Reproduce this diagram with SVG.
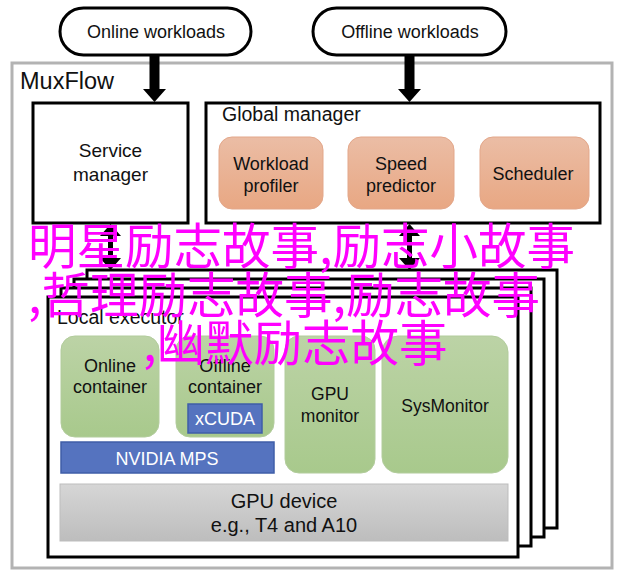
<svg xmlns="http://www.w3.org/2000/svg" width="624" height="582" viewBox="0 0 624 582">
<defs>
<linearGradient id="gOrange" x1="0" y1="0" x2="0" y2="1"><stop offset="0" stop-color="#ebbda5"/><stop offset="1" stop-color="#e8a783"/></linearGradient>
<linearGradient id="gGreen" x1="0" y1="0" x2="0" y2="1"><stop offset="0" stop-color="#bcd3a6"/><stop offset="1" stop-color="#a8c98c"/></linearGradient>
<linearGradient id="gGray" x1="0" y1="0" x2="0" y2="1"><stop offset="0" stop-color="#d6d6d6"/><stop offset="1" stop-color="#bdbdbd"/></linearGradient>
</defs>
<style>
text{font-family:"Liberation Sans",Arial,sans-serif;fill:#111;}
.t17{font-size:17.5px;text-anchor:middle;}
.t18{font-size:18px;text-anchor:middle;}
.t19{font-size:19px;text-anchor:middle;}
.t20{font-size:20px;text-anchor:middle;}
.blk{fill:#fff;stroke:#000;stroke-width:3;}
.org{fill:url(#gOrange);stroke:#e3a78a;stroke-width:1;}
.grn{fill:url(#gGreen);stroke:#b2cc9c;stroke-width:1;}
.blu{fill:#5573bf;stroke:#3f5ea8;stroke-width:1.5;}
.wt{fill:#fff;}
.arr{fill:#000;}
.wm{font-family:"Noto Sans CJK SC","Noto Sans",sans-serif;font-size:48.5px;fill:#ff00ff;}
</style>
<rect id="muxflow" x="12" y="63" width="600" height="505" fill="#fff" stroke="#b3b3b3" stroke-width="3"/>
<text x="20" y="89" style="font-size:23.5px">MuxFlow</text>

<g id="online-workloads">
<rect x="60" y="8" width="191" height="47" rx="23.5" class="blk" stroke-width="2.5"/>
<text x="156" y="38" style="font-size:18px;text-anchor:middle">Online workloads</text>
</g>
<g id="offline-workloads">
<rect x="313" y="8" width="193" height="47" rx="23.5" class="blk" stroke-width="2.5"/>
<text x="410" y="38" style="font-size:18px;text-anchor:middle">Offline workloads</text>
</g>

<g id="service-manager">
<rect x="33" y="103" width="155" height="120" class="blk"/>
<text x="110.5" y="157" class="t19">Service</text>
<text x="110.5" y="181" class="t19">manager</text>
</g>

<g id="global-manager">
<rect x="206" y="103" width="394" height="120" class="blk"/>
<text x="222" y="121" style="font-size:19.5px">Global manager</text>
<g id="workload-profiler">
<rect x="219" y="137" width="104" height="72" rx="13" class="org"/>
<text x="271" y="170" class="t18">Workload</text>
<text x="271" y="192" class="t18">profiler</text>
</g>
<g id="speed-predictor">
<rect x="348" y="137" width="106" height="72" rx="13" class="org"/>
<text x="401" y="170" class="t18">Speed</text>
<text x="401" y="192" class="t18">predictor</text>
</g>
<g id="scheduler">
<rect x="480" y="137" width="109" height="72" rx="13" class="org"/>
<text x="533" y="180" class="t18">Scheduler</text>
</g>
</g>

<g id="executor-stack">
<rect x="87" y="270" width="470" height="258" class="blk"/>
<rect x="74" y="279" width="470" height="258" class="blk"/>
<rect x="61" y="288" width="470" height="258" class="blk"/>
</g>

<g id="local-executor">
<rect x="48" y="297" width="470" height="260" class="blk"/>
<text x="57" y="324" style="font-size:19.5px">Local executor</text>
<g id="online-container">
<rect x="61" y="336" width="98" height="101" rx="14" class="grn"/>
<text x="110" y="372" class="t18">Online</text>
<text x="110" y="393" class="t18">container</text>
</g>
<g id="offline-container">
<rect x="176" y="336" width="98" height="101" rx="14" class="grn"/>
<text x="225" y="372" class="t18">Offline</text>
<text x="225" y="393" class="t18">container</text>
<g id="xcuda">
<rect x="188" y="404" width="74" height="29" class="blu"/>
<text x="225" y="425" class="t18 wt">xCUDA</text>
</g>
</g>
<g id="nvidia-mps">
<rect x="61" y="442" width="213" height="31" class="blu"/>
<text x="167" y="465" class="t18 wt">NVIDIA MPS</text>
</g>
<g id="gpu-monitor">
<rect x="285" y="336" width="90" height="137" rx="14" class="grn"/>
<text x="330" y="400" class="t17">GPU</text>
<text x="330" y="422" class="t17">monitor</text>
</g>
<g id="sysmonitor">
<rect x="382" y="336" width="126" height="137" rx="16" class="grn"/>
<text x="445" y="412" class="t17">SysMonitor</text>
</g>
<g id="gpu-device">
<rect x="60" y="484" width="448" height="57" fill="url(#gGray)" stroke="#bdbdbd" stroke-width="1"/>
<text x="284" y="508" class="t20">GPU device</text>
<text x="284" y="532" class="t20">e.g., T4 and A10</text>
</g>
</g>

<g id="connectors">
<path class="arr" d="M149.5,55 H159.5 V89 H166 L154.5,102 L143,89 H149.5 Z"/>
<path class="arr" d="M404.5,55 H414.5 V89 H421 L409.5,102 L398,89 H404.5 Z"/>
<path class="arr" d="M110.5,224 L121,236 H113 V258 H121 L110.5,270 L100,258 H108 V236 H100 Z"/>
<path class="arr" d="M409.5,224 L420,236 H412 V258 H420 L409.5,270 L399,258 H407 V236 H399 Z"/>
</g>

<g id="watermark">
<text x="28" y="264" class="wm">明星励志故事,励志小故事</text>
<text x="28" y="313" class="wm">,哲理励志故事,励志故事</text>
<text x="143" y="361" class="wm">,幽默励志故事</text>
</g>
</svg>
